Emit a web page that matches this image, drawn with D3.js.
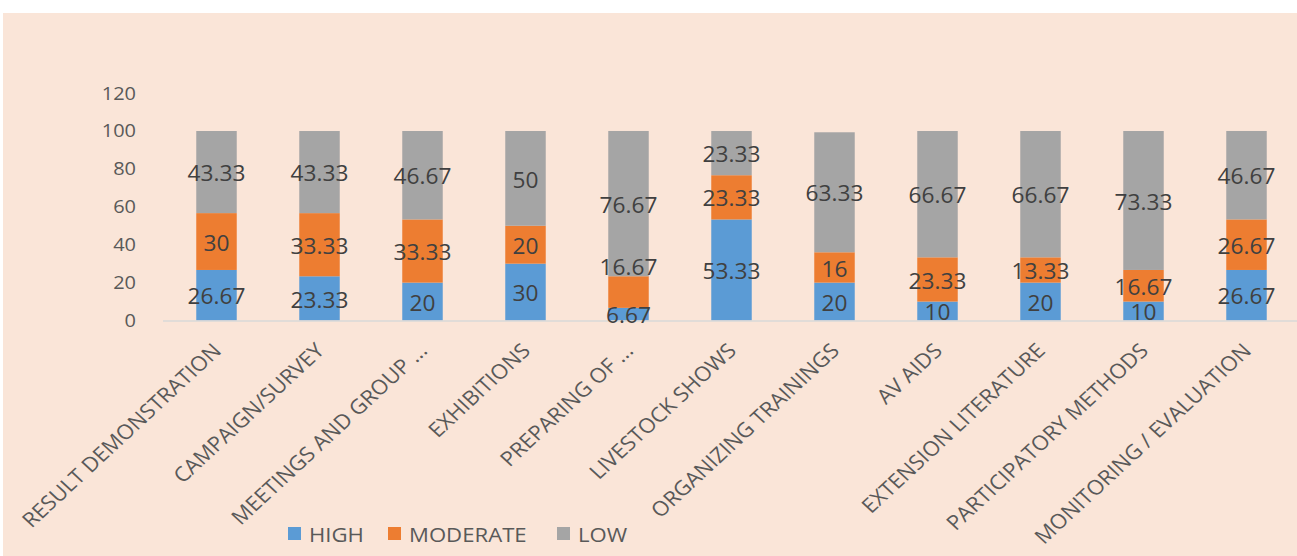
<!DOCTYPE html>
<html>
<head>
<meta charset="utf-8">
<script src="https://cdn.jsdelivr.net/npm/d3@7"></script>
<style>
  html, body { margin: 0; padding: 0; background: #ffffff; }
  svg { display: block; }
  text { font-family: "Open Sans", "Noto Sans", sans-serif; }
</style>
</head>
<body>
<svg id="chart" width="1297" height="556"></svg>
<script>
// ---- data ----
const categories = [
  "RESULT DEMONSTRATION", "CAMPAIGN/SURVEY", "MEETINGS AND GROUP ...", "EXHIBITIONS",
  "PREPARING OF ...", "LIVESTOCK SHOWS", "ORGANIZING TRAININGS", "AV AIDS",
  "EXTENSION LITERATURE", "PARTICIPATORY METHODS", "MONITORING / EVALUATION"
];
const high     = [26.67, 23.33, 20, 30, 6.67, 53.33, 20, 10, 20, 10, 26.67];
const moderate = [30, 33.33, 33.33, 20, 16.67, 23.33, 16, 23.33, 13.33, 16.67, 26.67];
const low      = [43.33, 43.33, 46.67, 50, 76.67, 23.33, 63.33, 66.67, 66.67, 73.33, 46.67];
const seriesNames = ["HIGH", "MODERATE", "LOW"];
const yTicks = [0, 20, 40, 60, 80, 100, 120];

// ---- styling ----
const colors = { HIGH: "#5B9BD5", MODERATE: "#ED7D31", LOW: "#A5A5A5" };
const S = 1.08; // horizontal stretch of the picture
const svg = d3.select("#chart");

// background panel
svg.append("rect").attr("x", 3).attr("y", 13).attr("width", 1294).attr("height", 543)
  .attr("fill", "#FAE5D8");

const g = svg.append("g").attr("transform", `scale(${S},1)`);

const table = categories.map((c, i) => ({ cat: c, HIGH: high[i], MODERATE: moderate[i], LOW: low[i] }));
const stack = d3.stack().keys(seriesNames)(table);

const x = d3.scaleBand().domain(categories)
  .range([165 / S, 1298 / S]).paddingInner(0.607).paddingOuter(0.3035);
const y = d3.scaleLinear().domain([0, 120]).range([320.5, 93.1]);

// y axis labels
const yAxis = g.append("g").attr("transform", `translate(${143 / S},0)`)
  .call(d3.axisLeft(y).tickValues(yTicks).tickSize(0).tickPadding(7 / S));
yAxis.select(".domain").remove();
yAxis.selectAll("text")
  .attr("fill", "#595959").style("font-size", "18.5px")
  .style("font-family", '"Open Sans", "Noto Sans", sans-serif');

// bars
const layers = g.selectAll("g.layer").data(stack).join("g").attr("class", "layer")
  .attr("fill", d => colors[d.key]);
layers.selectAll("rect").data(d => d).join("rect")
  .attr("x", d => x(d.data.cat))
  .attr("width", x.bandwidth())
  .attr("y", d => y(d[1]))
  .attr("height", d => y(d[0]) - y(d[1]));

// x axis line
g.append("line")
  .attr("x1", 163 / S).attr("x2", 1297 / S)
  .attr("y1", y(0) + 0.5).attr("y2", y(0) + 0.5)
  .attr("stroke", "#D9D9D9").attr("stroke-width", 1.5);

// data labels: centred in segment; if too close to the label below, placed just above the segment
const labelData = [];
categories.forEach((c, i) => {
  let prevY = null;
  stack.forEach(layer => {
    const seg = layer[i];
    let ly = (y(seg[0]) + y(seg[1])) / 2 + 1;
    if (prevY !== null && prevY - ly < 24) ly = y(seg[1]) - 9;
    labelData.push({ cat: c, key: layer.key, value: seg.data[layer.key], ly });
    prevY = ly;
  });
});
g.selectAll("text.val").data(labelData).join("text").attr("class", "val")
  .attr("x", d => x(d.cat) + x.bandwidth() / 2)
  .attr("y", d => d.ly)
  .attr("text-anchor", "middle")
  .attr("dominant-baseline", "central")
  .attr("fill", "#404040")
  .style("font-size", "21px")
  .text(d => d.value);

// category labels
g.selectAll("text.cat").data(categories).join("text").attr("class", "cat")
  .attr("transform", d => `translate(${x(d) + x.bandwidth() / 2 + 6 / S},352) rotate(-45)`)
  .attr("text-anchor", "end")
  .attr("fill", "#595959")
  .style("font-size", "20.5px")
  .text(d => d);

// legend
const legendItems = [
  { key: "HIGH", sx: 288, tx: 309 },
  { key: "MODERATE", sx: 388, tx: 409 },
  { key: "LOW", sx: 557, tx: 578 }
];
const leg = g.selectAll("g.leg").data(legendItems).join("g").attr("class", "leg");
leg.append("rect")
  .attr("x", d => d.sx / S).attr("y", 527).attr("width", 13 / S).attr("height", 13)
  .attr("fill", d => colors[d.key]);
leg.append("text")
  .attr("x", d => d.tx / S).attr("y", 534)
  .attr("dominant-baseline", "central")
  .attr("fill", "#595959")
  .style("font-size", "20.5px")
  .text(d => d.key);
</script>
</body>
</html>
